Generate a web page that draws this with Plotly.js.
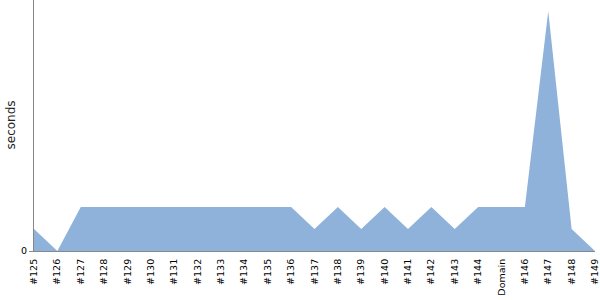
<!DOCTYPE html>
<html><head><meta charset="utf-8">
<script src="https://cdn.plot.ly/plotly-3.0.1.min.js"></script>
<style>html,body{margin:0;padding:0;background:#fff}</style>
</head><body><div id="chart" style="width:600px;height:300px"></div>
<script>
const categories = ["#125","#126","#127","#128","#129","#130","#131","#132","#133","#134","#135","#136","#137","#138","#139","#140","#141","#142","#143","#144","Domain","#146","#147","#148","#149"];
const seconds = [1,0,2,2,2,2,2,2,2,2,2,2,1,2,1,2,1,2,1,2,2,2,10.9,1,0];
const yTickVals = [0];
const yTickText = ["0"];
const yTitle = "seconds";

Plotly.newPlot("chart", [{
  x: categories, y: seconds, type: "scatter", mode: "lines",
  fill: "tozeroy", fillcolor: "rgb(143,178,219)",
  line: {width: 0, color: "rgb(143,178,219)"}, hoverinfo: "none"
}], {
  width: 600, height: 300,
  margin: {l: 34, r: 5, t: 0, b: 49},
  paper_bgcolor: "#fff", plot_bgcolor: "#fff",
  showlegend: false,
  font: {family: "DejaVu Sans", color: "#000"},
  xaxis: {
    type: "category", range: [0, categories.length - 1],
    showgrid: false, zeroline: false, showline: true, linecolor: "#888", linewidth: 1,
    tickangle: -90, tickfont: {size: 9.5, family: "DejaVu Sans"}, ticks: "", ticklen: 0,
    ticklabelstandoff: 3
  },
  yaxis: {
    range: [0, 11.41], showgrid: false, zeroline: false,
    showline: true, linecolor: "#888", linewidth: 1,
    tickvals: yTickVals, ticktext: yTickText, ticks: "outside", ticklen: 4, tickcolor: "#888",
    tickfont: {size: 9.5, family: "DejaVu Sans"}
  },
  annotations: [{
    text: yTitle, xref: "paper", yref: "paper", x: 0, y: 0.5,
    xanchor: "center", yanchor: "middle",
    xshift: -24, textangle: -90, showarrow: false,
    font: {size: 12, family: "DejaVu Sans", color: "#222"}
  }]
}, {displayModeBar: false, staticPlot: true});
</script></body></html>
